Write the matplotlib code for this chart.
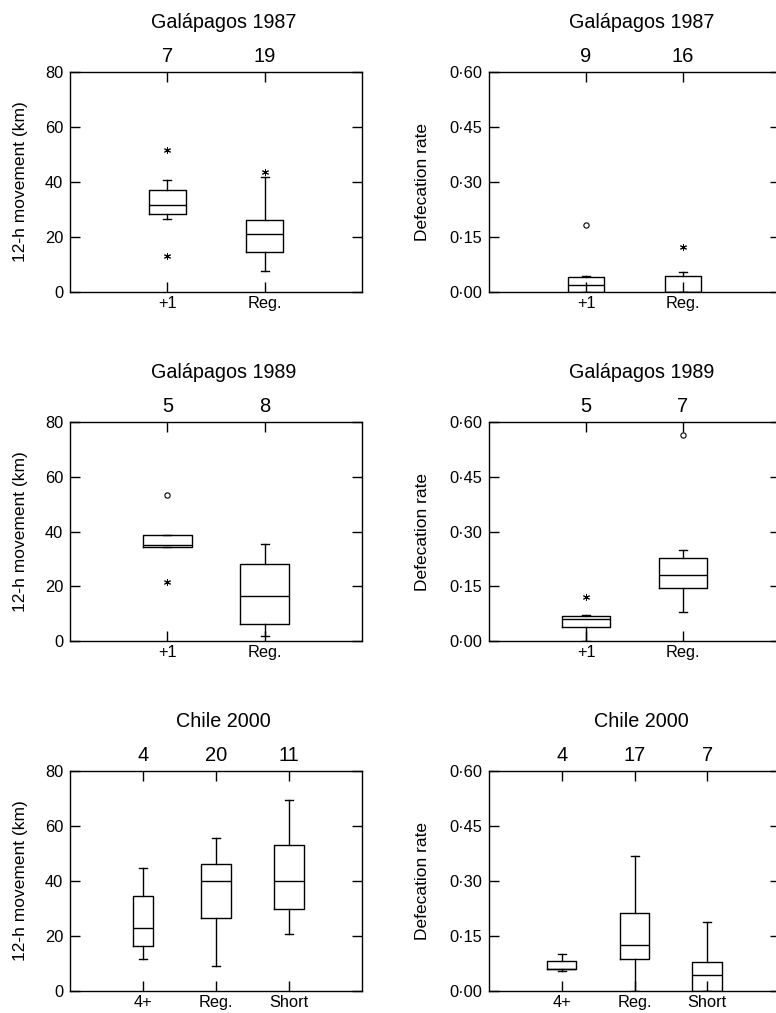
import matplotlib
matplotlib.use("Agg")
import matplotlib.pyplot as plt
from matplotlib.ticker import FixedLocator, FuncFormatter

plt.rcParams['font.family'] = ['Liberation Sans', 'DejaVu Sans']

# ---------------- data ----------------
titles = ['Galápagos 1987', 'Galápagos 1989', 'Chile 2000']

# Row 1: Galápagos 1987
mov87_labels = ['+1', 'Reg.']
mov87_n = [7, 19]
mov87_med = [31.6, 21.2]
mov87_q1 = [28.2, 14.7]
mov87_q3 = [37.2, 26.1]
mov87_lo = [26.7, 7.8]
mov87_hi = [40.7, 41.8]
mov87_star = [[51.8, 13.2], [43.6]]
mov87_circ = [[], []]

def87_labels = ['+1', 'Reg.']
def87_n = [9, 16]
def87_med = [0.020, 0.0]
def87_q1 = [0.0, 0.0]
def87_q3 = [0.041, 0.043]
def87_lo = [0.0, 0.0]
def87_hi = [0.044, 0.055]
def87_star = [[], [0.122]]
def87_circ = [[0.183], []]

# Row 2: Galápagos 1989
mov89_labels = ['+1', 'Reg.']
mov89_n = [5, 8]
mov89_med = [34.9, 16.5]
mov89_q1 = [34.3, 6.2]
mov89_q3 = [38.8, 28.3]
mov89_lo = [34.3, 1.9]
mov89_hi = [38.8, 35.5]
mov89_star = [[21.4], []]
mov89_circ = [[53.3], []]

def89_labels = ['+1', 'Reg.']
def89_n = [5, 7]
def89_med = [0.060, 0.182]
def89_q1 = [0.038, 0.145]
def89_q3 = [0.068, 0.228]
def89_lo = [0.0, 0.080]
def89_hi = [0.070, 0.249]
def89_star = [[0.121], []]
def89_circ = [[], [0.565]]

# Row 3: Chile 2000
mov00_labels = ['4+', 'Reg.', 'Short']
mov00_n = [4, 20, 11]
mov00_med = [22.8, 40.0, 40.0]
mov00_q1 = [16.2, 26.4, 29.8]
mov00_q3 = [34.7, 46.3, 53.1]
mov00_lo = [11.5, 9.2, 20.6]
mov00_hi = [44.8, 55.6, 69.6]
mov00_star = [[], [], []]
mov00_circ = [[], [], []]

def00_labels = ['4+', 'Reg.', 'Short']
def00_n = [4, 17, 7]
def00_med = [0.061, 0.125, 0.044]
def00_q1 = [0.059, 0.087, 0.0]
def00_q3 = [0.081, 0.213, 0.079]
def00_lo = [0.055, 0.0, 0.0]
def00_hi = [0.101, 0.367, 0.187]
def00_star = [[], [], []]
def00_circ = [[], [], []]

mov_ticks = [0, 20, 40, 60, 80]
def_ticks = [0.0, 0.15, 0.30, 0.45, 0.60]

# ---------------- figure ----------------
W, H = 776, 1013
fig = plt.figure(figsize=(W / 100, H / 100), dpi=100)

def fx(px):
    return px / W

def fy(px):
    return 1 - px / H

rows_px = [(72, 292), (422, 641), (771, 991)]
cols_px = [(70, 362), (489, 780)]

panels = [
    (0, 0, 'mov', mov87_labels, mov87_n, mov87_med, mov87_q1, mov87_q3, mov87_lo, mov87_hi, mov87_star, mov87_circ, [0.38, 0.38]),
    (0, 1, 'def', def87_labels, def87_n, def87_med, def87_q1, def87_q3, def87_lo, def87_hi, def87_star, def87_circ, [0.38, 0.38]),
    (1, 0, 'mov', mov89_labels, mov89_n, mov89_med, mov89_q1, mov89_q3, mov89_lo, mov89_hi, mov89_star, mov89_circ, [0.50, 0.50]),
    (1, 1, 'def', def89_labels, def89_n, def89_med, def89_q1, def89_q3, def89_lo, def89_hi, def89_star, def89_circ, [0.50, 0.50]),
    (2, 0, 'mov', mov00_labels, mov00_n, mov00_med, mov00_q1, mov00_q3, mov00_lo, mov00_hi, mov00_star, mov00_circ, [0.27, 0.40, 0.41]),
    (2, 1, 'def', def00_labels, def00_n, def00_med, def00_q1, def00_q3, def00_lo, def00_hi, def00_star, def00_circ, [0.40, 0.40, 0.41]),
]

lw = 1.0
for (r, c, kind, labels, n, med, q1, q3, lo, hi, star, circ, widths) in panels:
    top, bot = rows_px[r]
    left, right = cols_px[c]
    ax = fig.add_axes([fx(left), fy(bot), fx(right - left), (bot - top) / H])
    k = len(labels)
    pos = list(range(1, k + 1))
    px_per_unit = (right - left) / (k + 1)
    stats = []
    for i in range(k):
        stats.append(dict(med=med[i], q1=q1[i], q3=q3[i], whislo=lo[i], whishi=hi[i], fliers=[]))
    ax.bxp(stats, positions=pos, widths=widths, capwidths=[8 / px_per_unit] * k,
           showfliers=False, manage_ticks=False,
           boxprops=dict(color='black', linewidth=lw),
           medianprops=dict(color='black', linewidth=lw),
           whiskerprops=dict(color='black', linewidth=lw),
           capprops=dict(color='black', linewidth=lw))
    for i in range(k):
        if star[i]:
            ax.plot([pos[i]] * len(star[i]), star[i], linestyle='none',
                    marker=(6, 2, 0), markersize=5, markeredgewidth=0.7,
                    color='black', clip_on=False)
        if circ[i]:
            ax.plot([pos[i]] * len(circ[i]), circ[i], linestyle='none',
                    marker='o', markersize=3.8, markeredgewidth=0.8,
                    markerfacecolor='white', markeredgecolor='black', clip_on=False)
    ax.set_xlim(0, k + 1)
    ax.set_xticks(pos)
    ax.set_xticklabels(labels)
    if kind == 'mov':
        ax.set_ylim(0, 80)
        ax.yaxis.set_major_locator(FixedLocator(mov_ticks))
        ax.set_ylabel('12-h movement (km)', fontsize=12.5)
        ax.yaxis.set_label_coords(-42 / (right - left), 0.5)
    else:
        ax.set_ylim(0, 0.60)
        ax.yaxis.set_major_locator(FixedLocator(def_ticks))
        ax.yaxis.set_major_formatter(FuncFormatter(lambda v, p: f"{v:.2f}".replace('.', '\u00b7')))
        ax.set_ylabel('Defecation rate', fontsize=12.5)
        ax.yaxis.set_label_coords(-59 / (right - left), 0.5)
    ax.tick_params(direction='in', top=True, right=True, length=7, width=lw,
                   labelsize=11.8, colors='black')
    ax.tick_params(axis='x', pad=3)
    ax.tick_params(axis='y', pad=5)
    for sp in ax.spines.values():
        sp.set_linewidth(lw)
    for i in range(k):
        ax.annotate(str(n[i]), xy=(pos[i], 1), xycoords=('data', 'axes fraction'),
                    xytext=(0, 11.5), textcoords='offset points',
                    ha='center', va='center', fontsize=14.5)
    ax.annotate(titles[r], xy=(0.525, 1), xycoords='axes fraction',
                xytext=(0, 35.5), textcoords='offset points',
                ha='center', va='center', fontsize=14.2)

fig.savefig('out.png', dpi=100)
